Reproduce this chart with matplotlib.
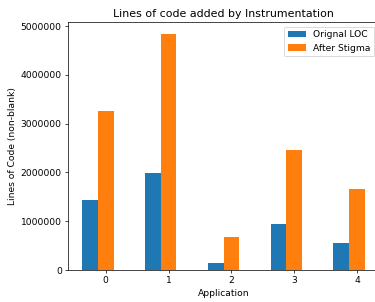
import matplotlib
matplotlib.use("Agg")
import matplotlib.pyplot as plt
import numpy as np

apps = [0, 1, 2, 3, 4]
original_loc = [1430000, 1990000, 140000, 940000, 550000]
after_stigma = [3260000, 4840000, 680000, 2460000, 1660000]

plt.rcParams["font.size"] = 10.3

width = 0.25
ind = np.arange(len(apps))

fig = plt.figure(figsize=(375 / 64, 302 / 64), dpi=64)
ax = fig.add_axes([68 / 375, 1 - 270 / 302, 311 / 375, 248 / 302])

ax.bar(ind - width, original_loc, width, label="Orignal LOC")
ax.bar(ind, after_stigma, width, label="After Stigma")

ax.set_xticks(ind)
ax.set_xticklabels([str(a) for a in apps])
ax.ticklabel_format(axis="y", style="plain")

ax.set_title("Lines of code added by Instrumentation")
ax.set_xlabel("Application")
ax.set_ylabel("Lines of Code (non-blank)")
ax.legend(loc="upper right")

fig.savefig("out.png", dpi=64)
